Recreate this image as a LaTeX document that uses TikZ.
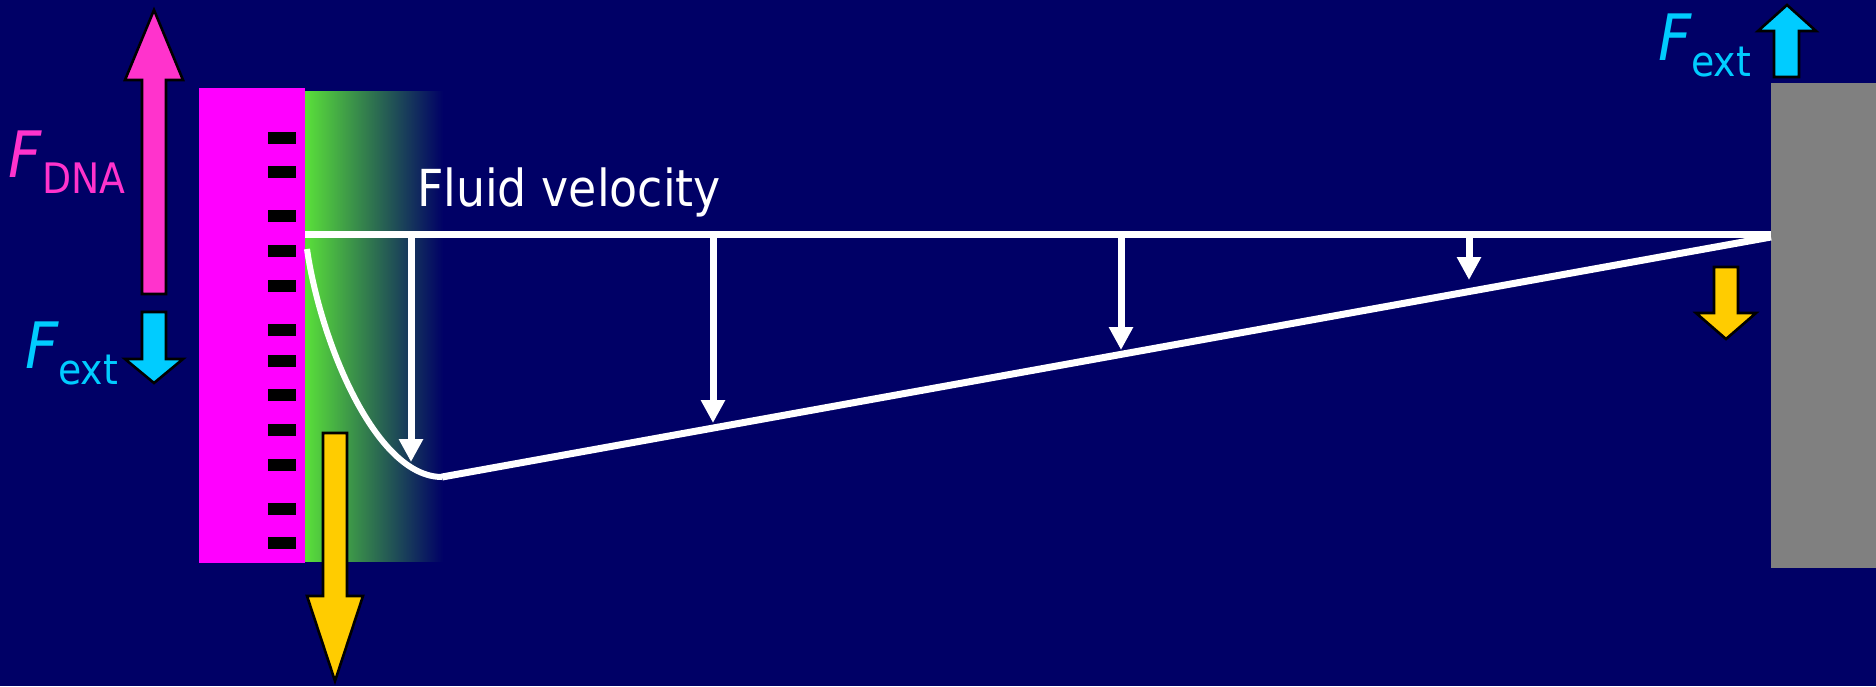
\documentclass[tikz,border=0pt]{standalone}
\usepackage{fontspec}
\setmainfont{DejaVu Sans Condensed}
\usetikzlibrary{arrows.meta}
\definecolor{navybg}{RGB}{0,0,102}
\definecolor{dnamag}{RGB}{255,0,255}
\definecolor{fpink}{RGB}{255,51,204}
\definecolor{fcyan}{RGB}{0,204,255}
\definecolor{fyellow}{RGB}{255,204,0}
\definecolor{wallgray}{RGB}{128,128,128}
\definecolor{gelgreen}{RGB}{90,224,58}
\newcommand{\bigF}{\fontsize{64}{64}\selectfont\itshape F}
\newcommand{\subtxt}[1]{\fontsize{42}{42}\selectfont\upshape\raisebox{-16pt}{#1}}
\begin{document}
\begin{tikzpicture}[x=1pt,y=-1pt,
  blockarrow/.style={draw=black,line width=2.6pt,line join=miter},
  flowline/.style={draw=white,line width=7pt},
  profline/.style={draw=white,line width=7pt},
  velarrow/.style={draw=white,line width=7pt,-{Triangle[width=23pt,length=23pt]}},
  dashmark/.style={fill=black},
  lbl/.style={anchor=base west,inner sep=0pt,outer sep=0pt}]
\useasboundingbox (0,0) rectangle (1876,686);
\fill[navybg] (0,0) rectangle (1876,686);
% gel gradient
\shade[left color=gelgreen,right color=navybg] (305,91) rectangle (443,561);
% DNA surface
\fill[dnamag] (199,88) rectangle (305,563);
\foreach \yy in {138,172,216,251,286,330,361,395,430,465,509,543}
  \fill[dashmark] (268,\yy-6) rectangle (296,\yy+6);
% wall
\fill[wallgray] (1771,83) rectangle (1876,568);
% flow profile
\coordinate (topL) at (305,234);
\coordinate (topR) at (1771,234);
\coordinate (curveS) at (307,249);
\coordinate (curveE) at (442,477);
\coordinate (slantR) at (1771,237);
\draw[flowline] (topL) -- (topR);
\draw[profline,line width=6pt] (curveS) .. controls (320,340) and (375,477) .. (curveE);
\draw[profline] (curveE) -- (slantR);
\coordinate (v1a) at (411,234); \coordinate (v1b) at (411,462);
\coordinate (v2a) at (713,234); \coordinate (v2b) at (713,423);
\coordinate (v3a) at (1121,234); \coordinate (v3b) at (1121,350);
\coordinate (v4a) at (1469,234); \coordinate (v4b) at (1469,280);
\draw[velarrow] (v1a) -- (v1b);
\draw[velarrow] (v2a) -- (v2b);
\draw[velarrow] (v3a) -- (v3b);
\draw[velarrow] (v4a) -- (v4b);
% force arrows
\filldraw[blockarrow,fill=fpink] (142,294)--(166,294)--(166,80)--(183,80)--(154,10)--(125,80)--(142,80)--cycle;
\filldraw[blockarrow,fill=fcyan] (142,312)--(166,312)--(166,359)--(183,359)--(154,383)--(125,359)--(142,359)--cycle;
\filldraw[blockarrow,fill=fyellow] (323,433)--(347,433)--(347,596)--(363,596)--(335,681)--(307,596)--(323,596)--cycle;
\filldraw[blockarrow,fill=fyellow] (1714,267)--(1738,267)--(1738,313)--(1756,313)--(1726,339)--(1696,313)--(1714,313)--cycle;
\filldraw[blockarrow,fill=fcyan] (1774,77)--(1799,77)--(1799,31)--(1816,31)--(1787,5)--(1758,31)--(1774,31)--cycle;
% labels
\node[lbl,text=white,font=\fontsize{51}{51}\selectfont] (fluid) at (417,206) {Fluid velocity};
\node[lbl,text=fpink] (fdna) at (9,177) {\bigF\subtxt{DNA}};
\node[lbl,text=fcyan] (fextL) at (25,368) {\bigF\subtxt{ext}};
\node[lbl,text=fcyan] (fextR) at (1658,60) {\bigF\subtxt{ext}};
\end{tikzpicture}
\end{document}
